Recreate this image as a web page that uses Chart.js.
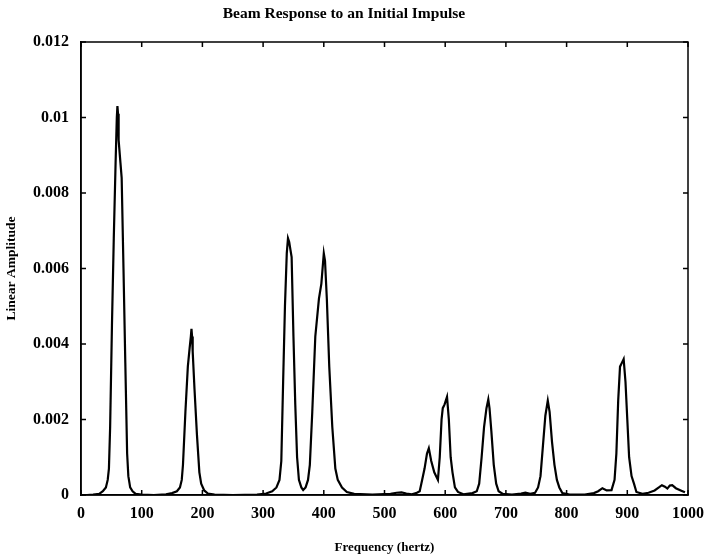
<!DOCTYPE html>
<html>
<head>
<meta charset="utf-8">
<script src="https://cdn.jsdelivr.net/npm/chart.js@4"></script>
<style>
  html, body { margin: 0; padding: 0; background: #fff; }
  #wrap { width: 708px; height: 556px; }
</style>
</head>
<body>
<div id="wrap"><canvas id="beamChart"></canvas></div>
<script>
// spectrum (hertz, linear amplitude)
let freq = [0, 10, 20, 30, 36, 41, 44, 46, 48, 51, 54, 57, 59, 60, 61, 62, 65, 67, 70, 73, 76, 78, 81, 85, 90, 100,
  120, 140, 150, 158, 163, 166, 168, 172, 176, 179, 181, 182, 183, 184, 187, 191, 195, 198, 203, 209, 220,
  250, 290, 305, 315, 322, 327, 330, 333, 336, 339, 341, 343, 345, 347, 350, 353, 356, 359, 363, 366,
  370, 374, 377, 381, 386, 392, 396, 400, 402, 405, 409, 414, 419, 423, 430, 438, 450,
  480, 510, 520, 528, 536, 545, 552, 558, 562, 566, 570, 573, 577, 582, 588, 591, 594, 596, 599, 603, 606, 609, 612, 616, 621, 630,
  645, 652, 656, 660, 664, 668, 671, 673, 676, 680, 684, 688, 695,
  710, 725, 732, 740, 748, 753, 757, 761, 765, 769, 772, 776, 780, 784, 788, 793, 805,
  830, 845, 852, 859, 866, 874, 879, 882, 885, 888, 891, 894, 897, 900, 903, 907, 911, 915, 925,
  935, 945, 952, 957, 962, 966, 970, 974, 980, 988, 995];
let amp = [0, 0, 0.00001, 0.00003, 0.0001, 0.0002, 0.0004, 0.0007, 0.0018, 0.0045, 0.0068, 0.0088, 0.0100, 0.0103, 0.0101, 0.0094, 0.0088, 0.0084, 0.0060, 0.0035, 0.0011, 0.0005, 0.0002, 0.0001, 0.00003, 0.00001,
  0, 0.00002, 0.00005, 0.0001, 0.0002, 0.0004, 0.0008, 0.0022, 0.0034, 0.0039, 0.0042, 0.0044, 0.0042, 0.0038, 0.0028, 0.0016, 0.0006, 0.0003, 0.00012, 0.00004, 0.00001,
  0, 0.00001, 0.00004, 0.0001, 0.0002, 0.0004, 0.0009, 0.0030, 0.0050, 0.0064, 0.0068, 0.0067, 0.0065, 0.0063, 0.0042, 0.0024, 0.0010, 0.0004, 0.0002, 0.00013,
  0.0002, 0.0004, 0.0008, 0.0022, 0.0042, 0.0052, 0.0056, 0.0064, 0.0062, 0.0052, 0.0034, 0.0018, 0.0007, 0.0004, 0.0002, 0.00008, 0.00003,
  0.00001, 0.00003, 0.00006, 0.00007, 0.00004, 0.00002, 0.00005, 0.0001, 0.0004, 0.0007, 0.0011, 0.00124, 0.0009, 0.0006, 0.0004, 0.0010, 0.0020, 0.0023, 0.0024, 0.0026, 0.0020, 0.0010, 0.0006, 0.0002, 0.00008, 0.00002,
  0.00005, 0.0001, 0.0003, 0.0010, 0.0018, 0.0023, 0.00253, 0.0023, 0.0017, 0.0008, 0.0003, 0.0001, 0.00003,
  0.00001, 0.00004, 0.00006, 0.00003, 0.00006, 0.0002, 0.0005, 0.0013, 0.0021, 0.0025, 0.0022, 0.0014, 0.0008, 0.0004, 0.0002, 0.00005, 0.00001,
  0.00001, 0.00005, 0.0001, 0.00018, 0.00012, 0.00013, 0.0004, 0.0011, 0.0025, 0.0034, 0.0035, 0.0036, 0.0030, 0.0020, 0.0010, 0.0005, 0.0003, 0.00008, 0.00003,
  0.00006, 0.00012, 0.0002, 0.00026, 0.00022, 0.00017, 0.00025, 0.00026, 0.00018, 0.00012, 0.00007];

let xTicks = [0, 100, 200, 300, 400, 500, 600, 700, 800, 900, 1000];
let yTicks = [0, 0.002, 0.004, 0.006, 0.008, 0.01, 0.012];

let points = freq.map((f, i) => ({ x: f, y: amp[i] }));
let serif = 'Liberation Serif';

// box round the plot with inward ticks, matlab style
const boxTicks = {
  id: 'boxTicks',
  afterDatasetsDraw(chart) {
    const c = chart.ctx;
    const a = chart.chartArea;
    const xs = chart.scales.x;
    const ys = chart.scales.y;
    c.save();
    c.strokeStyle = '#000';
    c.lineWidth = 1.5;
    c.strokeRect(a.left, a.top, a.right - a.left, a.bottom - a.top);
    c.beginPath();
    xTicks.forEach(v => {
      let px = xs.getPixelForValue(v);
      c.moveTo(px, a.bottom); c.lineTo(px, a.bottom - 5);
      c.moveTo(px, a.top); c.lineTo(px, a.top + 5);
    });
    yTicks.forEach(v => {
      let py = ys.getPixelForValue(v);
      c.moveTo(a.left, py); c.lineTo(a.left + 5, py);
      c.moveTo(a.right, py); c.lineTo(a.right - 5, py);
    });
    c.stroke();
    c.restore();
  }
};

let ctx = document.getElementById('beamChart').getContext('2d');
let beamChart = new Chart(ctx, {
  type: 'line',
  data: {
    datasets: [{
      data: points,
      borderColor: '#000',
      borderWidth: 2.2,
      pointRadius: 0,
      tension: 0,
      fill: false
    }]
  },
  options: {
    responsive: true,
    maintainAspectRatio: false,
    animation: false,
    layout: { padding: { left: 0, right: 20, top: 0, bottom: 0 } },
    plugins: {
      legend: { display: false },
      tooltip: { enabled: false },
      title: {
        display: true,
        text: 'Beam Response to an Initial Impulse',
        color: '#000',
        font: { family: serif, size: 15.5, weight: 'bold' },
        padding: { top: 5, bottom: 18.4 }
      }
    },
    scales: {
      x: {
        type: 'linear',
        min: 0,
        max: 1000,
        afterBuildTicks: (s) => { s.ticks = xTicks.map(v => ({ value: v })); },
        afterFit: (s) => { s.height = 61; },
        grid: { display: false },
        border: { display: true, color: '#000', width: 1.5 },
        ticks: {
          color: '#000',
          padding: 1,
          maxRotation: 0,
          font: { family: serif, size: 16, weight: 'bold' },
          callback: (v) => String(v)
        },
        title: {
          display: true,
          text: 'Frequency (hertz)',
          color: '#000',
          font: { family: serif, size: 13, weight: 'bold' },
          padding: { top: 0, bottom: 1 }
        }
      },
      y: {
        min: 0,
        max: 0.012,
        afterBuildTicks: (s) => { s.ticks = yTicks.map(v => ({ value: v })); },
        afterFit: (s) => { s.width = 81; },
        grid: { display: false },
        border: { display: true, color: '#000', width: 1.5 },
        ticks: {
          color: '#000',
          padding: 4,
          font: { family: serif, size: 16, weight: 'bold' },
          callback: (v) => String(Number(v.toFixed(3)))
        },
        title: {
          display: true,
          text: 'Linear Amplitude',
          color: '#000',
          font: { family: serif, size: 13.5, weight: 'bold' },
          padding: { top: 3, bottom: 0 }
        }
      }
    }
  },
  plugins: [boxTicks]
});
</script>
</body>
</html>
